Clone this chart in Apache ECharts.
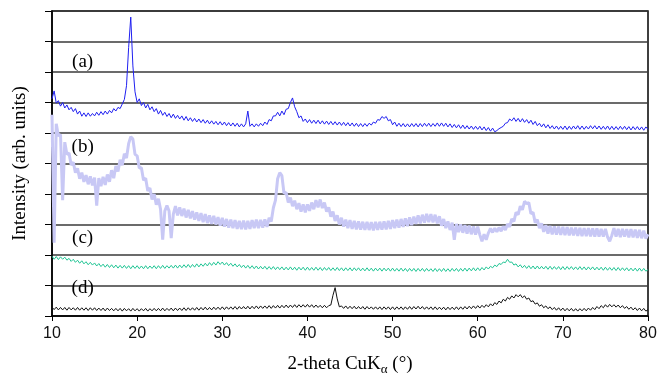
<!DOCTYPE html>
<html>
<head>
<meta charset="utf-8">
<script src="https://cdn.jsdelivr.net/npm/echarts@6/dist/echarts.min.js"></script>
<style>
  html, body {margin: 0; padding: 0; background: #fff;}
  #chart {width: 658px; height: 375px;}
</style>
</head>
<body>
<div id="chart"></div>
<script>
// 2-theta sampling of the traces: 10 -> 80 deg, every 0.25 deg
const thetaStart = 10
const thetaStep = 0.25

// (a) blue
const traceA = [
  7.12, 7.38, 6.98, 7.06, 6.88, 7.0, 6.82, 6.92, 6.76, 6.84, 6.7, 6.8, 6.62, 6.72, 6.55, 6.66, 6.54, 6.66, 6.55, 6.64,
  6.56, 6.68, 6.58, 6.7, 6.6, 6.72, 6.62, 6.74, 6.66, 6.8, 6.72, 6.84, 6.8, 6.95, 7.1, 7.55, 8.8, 9.8, 8.2, 7.35,
  7.0, 7.12, 6.9, 7.0, 6.82, 6.94, 6.76, 6.86, 6.7, 6.8, 6.62, 6.74, 6.58, 6.68, 6.54, 6.64, 6.5, 6.62, 6.48, 6.58,
  6.46, 6.56, 6.42, 6.54, 6.4, 6.5, 6.38, 6.48, 6.36, 6.46, 6.34, 6.44, 6.32, 6.42, 6.3, 6.4, 6.29, 6.38, 6.27, 6.37,
  6.26, 6.36, 6.24, 6.34, 6.23, 6.33, 6.22, 6.32, 6.2, 6.3, 6.2, 6.3, 6.72, 6.22, 6.3, 6.2, 6.3, 6.22, 6.32, 6.24,
  6.36, 6.28, 6.44, 6.4, 6.56, 6.56, 6.68, 6.56, 6.72, 6.6, 6.78, 6.8, 7.0, 7.15, 6.86, 6.7, 6.5, 6.56, 6.38, 6.46,
  6.34, 6.44, 6.32, 6.42, 6.31, 6.42, 6.3, 6.4, 6.29, 6.39, 6.28, 6.38, 6.27, 6.37, 6.26, 6.36, 6.25, 6.35, 6.24, 6.34,
  6.23, 6.33, 6.22, 6.32, 6.21, 6.31, 6.21, 6.31, 6.22, 6.32, 6.26, 6.36, 6.32, 6.44, 6.42, 6.54, 6.48, 6.54, 6.4, 6.44,
  6.27, 6.36, 6.22, 6.32, 6.21, 6.31, 6.2, 6.3, 6.2, 6.31, 6.21, 6.31, 6.2, 6.31, 6.21, 6.32, 6.22, 6.32, 6.21, 6.31,
  6.22, 6.33, 6.22, 6.33, 6.22, 6.32, 6.2, 6.3, 6.18, 6.28, 6.17, 6.27, 6.15, 6.26, 6.14, 6.24, 6.13, 6.23, 6.12, 6.22,
  6.12, 6.22, 6.1, 6.2, 6.08, 6.18, 6.06, 6.16, 6.04, 6.08, 6.14, 6.18, 6.22, 6.32, 6.34, 6.46, 6.4, 6.5, 6.38, 6.48,
  6.36, 6.47, 6.35, 6.44, 6.32, 6.42, 6.28, 6.38, 6.24, 6.32, 6.2, 6.3, 6.17, 6.27, 6.15, 6.24, 6.13, 6.23, 6.12, 6.22,
  6.12, 6.23, 6.11, 6.22, 6.12, 6.23, 6.13, 6.24, 6.12, 6.23, 6.12, 6.22, 6.13, 6.24, 6.14, 6.24, 6.13, 6.23, 6.12, 6.22,
  6.12, 6.23, 6.11, 6.22, 6.11, 6.21, 6.11, 6.22, 6.12, 6.22, 6.11, 6.21, 6.1, 6.21, 6.11, 6.21, 6.1, 6.2, 6.09, 6.2,
  6.12
]

// (b) light lavender
const traceB = [
  6.6, 2.4, 6.3, 5.9, 5.95, 3.8, 5.7, 5.3, 5.34, 4.95, 5.04, 4.7, 4.84, 4.5, 4.7, 4.4, 4.62, 4.32, 4.58, 4.28,
  4.54, 3.62, 4.52, 4.26, 4.56, 4.3, 4.64, 4.4, 4.78, 4.52, 4.92, 4.74, 5.12, 4.94, 5.32, 5.18, 5.65, 5.88, 5.8, 5.3,
  5.25, 4.85, 4.86, 4.45, 4.52, 4.1, 4.2, 3.82, 4.0, 3.65, 3.84, 3.5, 2.5, 3.44, 3.62, 3.44, 2.55, 3.34, 3.6, 3.3,
  3.56, 3.28, 3.52, 3.23, 3.48, 3.2, 3.44, 3.16, 3.4, 3.12, 3.37, 3.08, 3.34, 3.05, 3.3, 3.02, 3.28, 3.0, 3.24, 2.96,
  3.22, 2.93, 3.18, 2.9, 3.16, 2.88, 3.14, 2.86, 3.12, 2.85, 3.13, 2.84, 3.12, 2.86, 3.14, 2.88, 3.16, 2.88, 3.15, 2.9,
  3.17, 2.92, 3.22, 3.1, 3.55, 3.8, 4.5, 4.7, 4.6, 4.02, 4.05, 3.72, 3.88, 3.6, 3.78, 3.5, 3.7, 3.42, 3.66, 3.4,
  3.66, 3.45, 3.72, 3.5, 3.8, 3.56, 3.82, 3.54, 3.72, 3.42, 3.56, 3.26, 3.42, 3.12, 3.3, 3.0, 3.22, 2.93, 3.16, 2.88,
  3.14, 2.86, 3.12, 2.84, 3.1, 2.83, 3.09, 2.82, 3.09, 2.82, 3.08, 2.81, 3.09, 2.82, 3.09, 2.83, 3.1, 2.84, 3.12, 2.86,
  3.14, 2.88, 3.16, 2.9, 3.18, 2.92, 3.2, 2.95, 3.23, 2.98, 3.26, 3.02, 3.3, 3.04, 3.32, 3.06, 3.35, 3.08, 3.34, 3.07,
  3.32, 3.04, 3.27, 2.96, 3.18, 2.88, 3.1, 2.82, 3.06, 2.5, 3.02, 2.75, 3.0, 2.73, 2.98, 2.7, 2.96, 2.68, 2.94, 2.67,
  2.93, 2.66, 2.45, 2.68, 2.5, 2.72, 2.87, 2.74, 2.88, 2.76, 2.9, 2.78, 2.94, 2.82, 3.02, 2.92, 3.18, 3.1, 3.4, 3.32,
  3.6, 3.48, 3.76, 3.68, 3.72, 3.35, 3.4, 3.06, 3.16, 2.88, 3.04, 2.76, 2.98, 2.7, 2.95, 2.68, 2.94, 2.67, 2.93, 2.66,
  2.92, 2.65, 2.91, 2.64, 2.9, 2.64, 2.9, 2.63, 2.89, 2.62, 2.88, 2.62, 2.88, 2.61, 2.87, 2.6, 2.87, 2.6, 2.86, 2.6,
  2.86, 2.59, 2.45, 2.64, 2.88, 2.6, 2.86, 2.59, 2.86, 2.6, 2.85, 2.58, 2.85, 2.58, 2.83, 2.56, 2.82, 2.55, 2.8, 2.54,
  2.68
]

// (c) green
const traceC = [
  1.96, 1.86, 1.95, 1.85, 1.94, 1.86, 1.93, 1.83, 1.89, 1.79, 1.86, 1.76, 1.83, 1.73, 1.81, 1.71, 1.78, 1.68, 1.76, 1.67,
  1.74, 1.64, 1.72, 1.62, 1.7, 1.6, 1.69, 1.59, 1.68, 1.58, 1.67, 1.57, 1.66, 1.57, 1.66, 1.56, 1.65, 1.55, 1.65, 1.56,
  1.65, 1.55, 1.64, 1.55, 1.65, 1.55, 1.64, 1.56, 1.65, 1.55, 1.65, 1.56, 1.66, 1.56, 1.65, 1.57, 1.66, 1.57, 1.67, 1.57,
  1.67, 1.58, 1.68, 1.59, 1.69, 1.59, 1.69, 1.6, 1.71, 1.61, 1.71, 1.63, 1.73, 1.64, 1.75, 1.66, 1.76, 1.67, 1.78, 1.69,
  1.77, 1.67, 1.75, 1.65, 1.73, 1.63, 1.71, 1.61, 1.69, 1.59, 1.67, 1.57, 1.66, 1.56, 1.65, 1.55, 1.64, 1.54, 1.63, 1.54,
  1.63, 1.53, 1.62, 1.53, 1.62, 1.52, 1.61, 1.52, 1.61, 1.51, 1.6, 1.51, 1.61, 1.51, 1.6, 1.5, 1.6, 1.51, 1.6, 1.5,
  1.6, 1.5, 1.59, 1.5, 1.6, 1.5, 1.59, 1.49, 1.59, 1.5, 1.59, 1.49, 1.58, 1.49, 1.59, 1.49, 1.58, 1.48, 1.58, 1.49,
  1.58, 1.48, 1.58, 1.49, 1.58, 1.48, 1.57, 1.48, 1.58, 1.48, 1.57, 1.47, 1.57, 1.48, 1.57, 1.47, 1.57, 1.48, 1.57, 1.47,
  1.57, 1.47, 1.56, 1.47, 1.57, 1.47, 1.56, 1.46, 1.56, 1.47, 1.56, 1.46, 1.56, 1.47, 1.56, 1.46, 1.56, 1.47, 1.55, 1.46,
  1.56, 1.46, 1.55, 1.46, 1.56, 1.46, 1.55, 1.46, 1.56, 1.47, 1.56, 1.46, 1.56, 1.47, 1.57, 1.47, 1.57, 1.48, 1.58, 1.48,
  1.58, 1.49, 1.59, 1.51, 1.61, 1.54, 1.63, 1.58, 1.67, 1.62, 1.72, 1.69, 1.77, 1.75, 1.86, 1.76, 1.77, 1.67, 1.71, 1.61,
  1.68, 1.58, 1.66, 1.56, 1.65, 1.55, 1.64, 1.54, 1.64, 1.54, 1.63, 1.54, 1.63, 1.53, 1.63, 1.53, 1.62, 1.53, 1.62, 1.52,
  1.62, 1.52, 1.62, 1.53, 1.62, 1.52, 1.61, 1.52, 1.62, 1.52, 1.61, 1.51, 1.61, 1.52, 1.61, 1.51, 1.6, 1.51, 1.6, 1.5,
  1.6, 1.5, 1.59, 1.5, 1.59, 1.49, 1.59, 1.49, 1.58, 1.49, 1.58, 1.48, 1.57, 1.48, 1.57, 1.47, 1.57, 1.47, 1.56, 1.47,
  1.52
]

// (d) black
const traceD = [
  0.29, 0.21, 0.29, 0.2, 0.28, 0.2, 0.28, 0.19, 0.28, 0.2, 0.27, 0.19, 0.28, 0.19, 0.27, 0.19, 0.27, 0.18, 0.27, 0.19,
  0.27, 0.18, 0.26, 0.18, 0.26, 0.17, 0.26, 0.18, 0.25, 0.17, 0.25, 0.17, 0.25, 0.16, 0.25, 0.17, 0.24, 0.16, 0.25, 0.17,
  0.24, 0.16, 0.24, 0.17, 0.25, 0.16, 0.24, 0.17, 0.25, 0.17, 0.25, 0.17, 0.26, 0.17, 0.25, 0.18, 0.26, 0.17, 0.26, 0.18,
  0.26, 0.18, 0.27, 0.18, 0.27, 0.19, 0.27, 0.19, 0.28, 0.19, 0.28, 0.2, 0.29, 0.2, 0.28, 0.2, 0.29, 0.21, 0.29, 0.21,
  0.3, 0.21, 0.3, 0.22, 0.3, 0.22, 0.31, 0.22, 0.31, 0.23, 0.31, 0.23, 0.32, 0.23, 0.32, 0.24, 0.33, 0.24, 0.33, 0.25,
  0.33, 0.25, 0.34, 0.25, 0.34, 0.26, 0.35, 0.26, 0.35, 0.27, 0.36, 0.27, 0.36, 0.28, 0.37, 0.28, 0.37, 0.29, 0.37, 0.29,
  0.38, 0.29, 0.37, 0.28, 0.36, 0.28, 0.35, 0.27, 0.35, 0.27, 0.34, 0.36, 0.68, 0.93, 0.56, 0.3, 0.33, 0.25, 0.33, 0.24,
  0.32, 0.24, 0.32, 0.23, 0.31, 0.23, 0.31, 0.22, 0.31, 0.23, 0.3, 0.22, 0.3, 0.22, 0.3, 0.21, 0.3, 0.22, 0.3, 0.21,
  0.3, 0.21, 0.3, 0.22, 0.3, 0.21, 0.3, 0.22, 0.31, 0.22, 0.31, 0.23, 0.32, 0.23, 0.31, 0.22, 0.3, 0.22, 0.3, 0.21,
  0.3, 0.21, 0.29, 0.21, 0.29, 0.2, 0.29, 0.21, 0.29, 0.21, 0.3, 0.21, 0.3, 0.22, 0.31, 0.23, 0.32, 0.24, 0.33, 0.25,
  0.34, 0.26, 0.35, 0.28, 0.37, 0.3, 0.4, 0.33, 0.44, 0.38, 0.49, 0.43, 0.55, 0.49, 0.61, 0.55, 0.66, 0.59, 0.7, 0.63,
  0.7, 0.6, 0.66, 0.55, 0.59, 0.47, 0.5, 0.39, 0.43, 0.32, 0.37, 0.27, 0.33, 0.24, 0.3, 0.21, 0.28, 0.19, 0.27, 0.18,
  0.26, 0.17, 0.25, 0.17, 0.25, 0.16, 0.24, 0.16, 0.24, 0.17, 0.25, 0.17, 0.26, 0.19, 0.28, 0.21, 0.31, 0.24, 0.34, 0.27,
  0.37, 0.29, 0.38, 0.3, 0.37, 0.29, 0.36, 0.27, 0.34, 0.25, 0.31, 0.22, 0.29, 0.2, 0.27, 0.18, 0.26, 0.17, 0.25, 0.16,
  0.21
]

const xTicks = [10, 20, 30, 40, 50, 60, 70, 80]
const sampleLabels = ['(a)', '(b)', '(c)', '(d)']
const sampleLabelX = 13.6
const sampleLabelY = [8.33, 5.54, 2.56, 0.92]

const serif = '"Liberation Serif", "DejaVu Serif", serif'

const toPairs = arr => arr.map((v, i) => [thetaStart + i * thetaStep, v])

const chart = echarts.init(document.getElementById('chart'))

const line = (name, data, color, width) => ({
  name,
  type: 'line',
  data: toPairs(data),
  showSymbol: false,
  symbol: 'none',
  lineStyle: {color, width},
  silent: true,
})

chart.setOption({
  animation: false,
  grid: {
    left: 52, right: 10, top: 11, bottom: 59,
    outerBoundsMode: 'none', containLabel: false,
    show: true, borderColor: '#000', borderWidth: 1.5,
  },
  xAxis: {
    type: 'value',
    min: xTicks[0],
    max: xTicks[xTicks.length - 1],
    interval: 10,
    name: '2-theta CuK{sub|α} (°)',
    nameLocation: 'middle',
    nameGap: 37,
    nameTextStyle: {
      fontFamily: serif, fontSize: 19, color: '#000',
      rich: {sub: {fontFamily: serif, fontSize: 13, color: '#000', verticalAlign: 'bottom', padding: [10, 0, 0, 0]}},
    },
    axisLine: {lineStyle: {color: '#000', width: 1.5}},
    axisTick: {inside: false, length: 5, lineStyle: {color: '#000'}},
    axisLabel: {fontFamily: '"Liberation Sans", Arial, sans-serif', fontSize: 16, color: '#111', margin: 10},
    splitLine: {show: false},
  },
  yAxis: {
    type: 'value',
    min: 0,
    max: 10,
    interval: 1,
    name: 'Intensity (arb. units)',
    nameLocation: 'middle',
    nameGap: 22,
    nameTextStyle: {fontFamily: serif, fontSize: 19, color: '#000'},
    axisLine: {show: true, lineStyle: {color: '#000', width: 1.5}},
    axisTick: {show: true, inside: false, length: 7, lineStyle: {color: '#000'}},
    axisLabel: {show: false},
    splitLine: {show: true, lineStyle: {color: '#3a3a3a', width: 1.5}},
  },
  series: [
    line('(b)', traceB, '#c8c8f5', 3),
    line('(a)', traceA, '#1f1ff0', 1),
    line('(c)', traceC, '#1fc493', 1),
    line('(d)', traceD, '#111111', 1),
    {
      type: 'scatter',
      symbolSize: 1,
      itemStyle: {opacity: 0},
      silent: true,
      z: 10,
      data: sampleLabelY.map((y, i) => ({value: [sampleLabelX, y], name: sampleLabels[i]})),
      label: {
        show: true,
        formatter: p => p.name,
        position: 'inside',
        fontFamily: serif,
        fontSize: 19,
        color: '#000',
        opacity: 1,
      },
    },
  ],
})
</script>
</body>
</html>
